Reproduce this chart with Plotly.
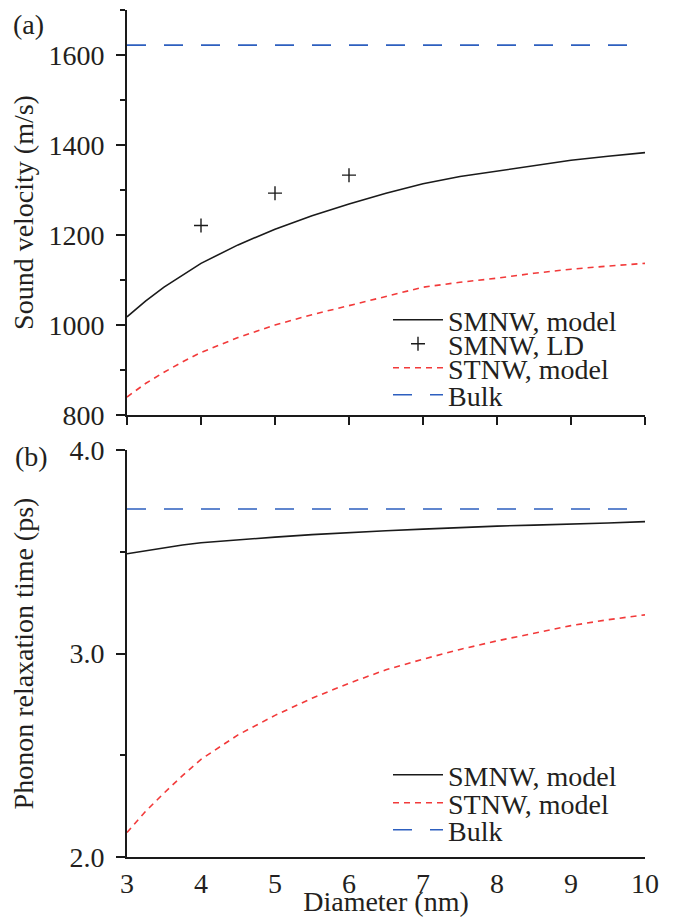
import plotly.graph_objects as go

# ---------------- data ----------------
diameter = [3.0, 3.25, 3.5, 3.75, 4.0, 4.5, 5.0, 5.5, 6.0, 6.5, 7.0, 7.5, 8.0, 8.5, 9.0, 9.5, 10.0]

# (a) sound velocity (m/s)
vel_smnw_model = [1018, 1053, 1084, 1110, 1137, 1178, 1213, 1243, 1269, 1293, 1314, 1330, 1342, 1355, 1366, 1375, 1383]
vel_stnw_model = [840, 870, 895, 918, 939, 972, 1000, 1023, 1043, 1064, 1084, 1095, 1104, 1115, 1124, 1131, 1137]
ld_diameter = [4, 5, 6]
vel_smnw_ld = [1221, 1293, 1333]
vel_bulk = 1622

# (b) phonon relaxation time (ps)
tau_smnw_model = [3.49, 3.505, 3.52, 3.533, 3.544, 3.559, 3.572, 3.584, 3.595, 3.603, 3.611, 3.619, 3.626, 3.631, 3.635, 3.641, 3.648]
tau_stnw_model = [2.12, 2.224, 2.314, 2.40, 2.48, 2.60, 2.696, 2.78, 2.854, 2.92, 2.972, 3.02, 3.062, 3.10, 3.137, 3.166, 3.19]
tau_bulk = 3.71

x_ticks = [3, 4, 5, 6, 7, 8, 9, 10]

# ---------------- style ----------------
FONT = "Liberation Serif"
TXT = "#231f20"
BLACK = "#1a1a1a"
RED = "#f23a3a"
BLUE = "#2d5fbf"
RED_DASH = "6px,5px"
BLUE_DASH = "19px,18px"

fig = go.Figure()

bulk_x = [diameter[0], diameter[-1]]

# ---- panel (a)
fig.add_trace(go.Scatter(x=diameter, y=vel_smnw_model, mode="lines", name="SMNW, model",
                         line=dict(color=BLACK, width=1.6), xaxis="x", yaxis="y", legend="legend"))
fig.add_trace(go.Scatter(x=ld_diameter, y=vel_smnw_ld, mode="markers", name="SMNW, LD",
                         marker=dict(symbol="cross-thin", size=10, line=dict(color=BLACK, width=1.4)),
                         xaxis="x", yaxis="y", legend="legend2"))
fig.add_trace(go.Scatter(x=diameter, y=vel_stnw_model, mode="lines", name="STNW, model",
                         line=dict(color=RED, width=1.6, dash=RED_DASH), xaxis="x", yaxis="y", legend="legend3"))
fig.add_trace(go.Scatter(x=bulk_x, y=[vel_bulk] * 2, mode="lines", name="Bulk",
                         line=dict(color=BLUE, width=1.6, dash=BLUE_DASH), xaxis="x", yaxis="y", legend="legend4"))

# ---- panel (b)
fig.add_trace(go.Scatter(x=diameter, y=tau_smnw_model, mode="lines", name="SMNW, model",
                         line=dict(color=BLACK, width=1.6), xaxis="x2", yaxis="y2", legend="legend5"))
fig.add_trace(go.Scatter(x=diameter, y=tau_stnw_model, mode="lines", name="STNW, model",
                         line=dict(color=RED, width=1.6, dash=RED_DASH), xaxis="x2", yaxis="y2", legend="legend6"))
fig.add_trace(go.Scatter(x=bulk_x, y=[tau_bulk] * 2, mode="lines", name="Bulk",
                         line=dict(color=BLUE, width=1.6, dash=BLUE_DASH), xaxis="x2", yaxis="y2", legend="legend7"))

# ---------------- layout ----------------
# the page body has an 8px margin, so the figure is drawn 8px smaller
PAGE_OFF = 8
W, H = 677 - PAGE_OFF, 917 - PAGE_OFF
# target plot area on screen: x 127..645, y 10..857
L = 127 - PAGE_OFF
T = 10 - PAGE_OFF
R = 677 - 645
B = 917 - 857
PH = H - T - B
PW = W - L - R


def py(screen_y):
    return (917 - B - screen_y) / PH


def pxx(screen_x):
    return (screen_x - 127) / PW


top_dom = [py(415), 1.0]
bot_dom = [0.0, py(450)]

common = dict(showline=True, linewidth=2, linecolor=BLACK, mirror=False, showgrid=False, zeroline=False,
              automargin=False,
              tickcolor=BLACK, tickwidth=1.5, tickfont=dict(family=FONT, size=28, color=TXT))

xcommon = dict(common, range=[3, 10], tickmode="array", tickvals=x_ticks)

layout = dict(
    width=W, height=H,
    margin=dict(l=L, r=R, t=T, b=B, pad=0, autoexpand=False),
    paper_bgcolor="white", plot_bgcolor="white",
    font=dict(family=FONT, size=28, color=TXT),
    showlegend=True,
    # panel (a)
    xaxis=dict(xcommon, anchor="y", domain=[0, 1], ticks="outside", ticklen=8, showticklabels=False),
    xaxis3=dict(xcommon, anchor="y", overlaying="x", side="top", ticks="inside", ticklen=6, showticklabels=False),
    yaxis=dict(common, anchor="x", domain=top_dom, range=[800, 1700], tick0=800, dtick=200,
               ticks="outside", ticklen=9, ticklabelstandoff=6,
               minor=dict(ticks="outside", ticklen=5, dtick=100, tick0=800, tickcolor=BLACK, tickwidth=1.5),
               title=dict(text="Sound velocity (m/s)", font=dict(family=FONT, size=28, color=TXT), standoff=10)),
    yaxis3=dict(common, anchor="x", overlaying="y", side="right", range=[800, 1700], tick0=800, dtick=200,
                ticks="inside", ticklen=9, showticklabels=False,
                minor=dict(ticks="inside", ticklen=5, dtick=100, tick0=800, tickcolor=BLACK, tickwidth=1.5)),
    # panel (b): labels on xaxis2 (no ticks, so the labels sit close), tick marks on xaxis5
    xaxis2=dict(xcommon, anchor="y2", domain=[0, 1], ticks="",
                title=dict(text="Diameter (nm)", font=dict(family=FONT, size=28, color=TXT), standoff=14)),
    xaxis5=dict(xcommon, anchor="y2", overlaying="x2", side="bottom", ticks="outside", ticklen=6,
                showticklabels=False),
    xaxis4=dict(xcommon, anchor="y2", overlaying="x2", side="top", ticks="inside", ticklen=6, showticklabels=False),
    yaxis2=dict(common, anchor="x2", domain=bot_dom, range=[2.0, 4.0], tick0=2, dtick=1, tickformat=".1f",
                ticks="outside", ticklen=9, ticklabelstandoff=6,
                minor=dict(ticks="outside", ticklen=5, dtick=0.5, tick0=2, tickcolor=BLACK, tickwidth=1.5),
                title=dict(text="Phonon relaxation time (ps)", font=dict(family=FONT, size=28, color=TXT), standoff=28)),
    yaxis4=dict(common, anchor="x2", overlaying="y2", side="right", range=[2.0, 4.0], tick0=2, dtick=1,
                ticks="inside", ticklen=9, showticklabels=False,
                minor=dict(ticks="inside", ticklen=5, dtick=0.5, tick0=2, tickcolor=BLACK, tickwidth=1.5)),
    annotations=[
        dict(text="(a)", xref="paper", yref="paper", x=pxx(28), y=py(PAGE_OFF), showarrow=False,
             xanchor="center", yanchor="top", borderpad=0, font=dict(family=FONT, size=28, color=TXT)),
        dict(text="(b)", xref="paper", yref="paper", x=pxx(31), y=py(456), showarrow=False,
             xanchor="center", yanchor="middle", font=dict(family=FONT, size=28, color=TXT)),
    ],
)

# one legend per entry so the row spacing can match the tight original
leg_rows = {
    "legend": 320, "legend2": 344, "legend3": 368, "legend4": 395,
    "legend5": 775, "legend6": 803, "legend7": 830,
}
for key, row in leg_rows.items():
    layout[key] = dict(x=pxx(388), y=py(row), xanchor="left", yanchor="middle",
                       bgcolor="rgba(0,0,0,0)", borderwidth=0, itemwidth=50,
                       font=dict(family=FONT, size=28, color=TXT), tracegroupgap=0)

fig.update_layout(**layout)
fig.write_html("out.html")
